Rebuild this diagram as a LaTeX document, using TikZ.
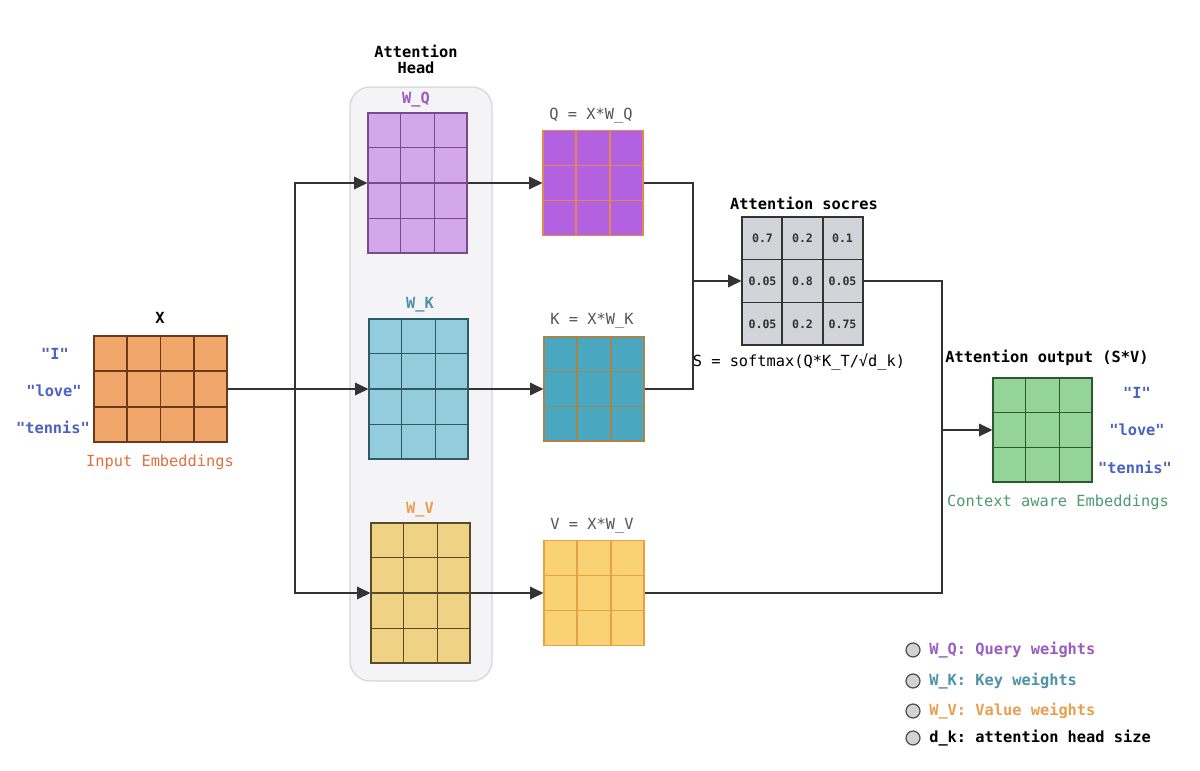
\documentclass[tikz,border=0pt]{standalone}
\usepackage{fontspec}
\setmainfont{DejaVu Sans Mono}[Ligatures=TeXOff]
\setmonofont{DejaVu Sans Mono}[Ligatures=TeXOff]
\usetikzlibrary{arrows.meta,calc}
\definecolor{cline}{HTML}{333333}
\definecolor{wordblue}{HTML}{4C62C0}
\definecolor{inemb}{HTML}{E0703C}
\definecolor{xfill}{HTML}{F2A76A}
\definecolor{xgrid}{HTML}{6A3A1A}
\definecolor{wqfill}{HTML}{D3A8EA}
\definecolor{wqgrid}{HTML}{7A4A8C}
\definecolor{wqtext}{HTML}{9B5CC0}
\definecolor{qfill}{HTML}{B261E0}
\definecolor{qgrid}{HTML}{E4864E}
\definecolor{wkfill}{HTML}{93CCDD}
\definecolor{wkgrid}{HTML}{2E5A68}
\definecolor{wktext}{HTML}{4C92A8}
\definecolor{kfill}{HTML}{4AA7C0}
\definecolor{kgrid}{HTML}{A8844A}
\definecolor{wvfill}{HTML}{F0D285}
\definecolor{wvgrid}{HTML}{5A4A2C}
\definecolor{wvtext}{HTML}{E8A050}
\definecolor{vfill}{HTML}{F8D274}
\definecolor{vgrid}{HTML}{E8A040}
\definecolor{sfill}{HTML}{D2D4DA}
\definecolor{sgrid}{HTML}{333333}
\definecolor{ofill}{HTML}{95D498}
\definecolor{ogrid}{HTML}{2C5A2C}
\definecolor{ctext}{HTML}{4C9C72}
\definecolor{headfill}{HTML}{F4F4F7}
\definecolor{headdraw}{HTML}{D6D6DA}
\definecolor{lblgray}{HTML}{555555}
\definecolor{legfill}{HTML}{D2D2D6}
\newcommand\qq{\symbol{34}}
\newcommand\matgrid[4]{%
  \foreach \ci in {1,...,\numexpr#2-1\relax}{%
    \draw[#4,line width=1pt] ($(#1.north west)!{\ci/#2}!(#1.north east)$) -- ($(#1.south west)!{\ci/#2}!(#1.south east)$);}%
  \foreach \cj in {1,...,\numexpr#3-1\relax}{%
    \draw[#4,line width=1pt] ($(#1.north west)!{\cj/#3}!(#1.south west)$) -- ($(#1.north east)!{\cj/#3}!(#1.south east)$);}%
}
\tikzset{
  mat/.style 2 args={draw, line width=0.9pt, inner sep=0pt, minimum width=#1*0.75pt, minimum height=#2*0.75pt},
  conn/.style={draw=cline, line width=0.9pt},
  arr/.style={conn, -{Triangle[length=10pt,width=9.5pt]}},
  txt/.style={font=\fontsize{11.5pt}{13pt}\selectfont, inner sep=0pt},
  btxt/.style={font=\fontsize{11.5pt}{13pt}\selectfont\bfseries, inner sep=0pt},
  val/.style={font=\fontsize{8.7pt}{10pt}\selectfont\bfseries, inner sep=0pt, text=cline},
  legdot/.style={circle, draw=black!70, fill=legfill, line width=0.9pt, minimum size=10.5pt, inner sep=0pt},
}
\begin{document}
\begin{tikzpicture}[x=0.75pt,y=-0.75pt]
\useasboundingbox (0,0) rectangle (1200,771);
\fill[white] (0,0) rectangle (1200,771);

% attention head container
\node[draw=headdraw, fill=headfill, line width=0.9pt, rounded corners=15pt, minimum width=142*0.75pt, minimum height=594*0.75pt] (head) at (421,384) {};
\node[btxt] (headlbl) at (416,62) {\begin{tabular}{c}Attention\\[-1pt]Head\end{tabular}};

% X
\node[mat={133}{106}, draw=xgrid, fill=xfill] (X) at (160.5,389) {};
\matgrid{X}{4}{3}{xgrid}
\node[btxt] (Xl) at (160,318) {X};
\node[btxt, text=wordblue] (w1) at (55,354) {\qq I\qq};
\node[btxt, text=wordblue] (w2) at (54,391) {\qq love\qq};
\node[btxt, text=wordblue] (w3) at (53,427) {\qq tennis\qq};
\node[txt, text=inemb] (inl) at (160,462) {Input Embeddings};

% W matrices
\node[mat={99}{140}, draw=wqgrid, fill=wqfill] (WQ) at (417.5,183) {};
\matgrid{WQ}{3}{4}{wqgrid}
\node[btxt, text=wqtext] (WQl) at (416,100) {W\_Q};
\node[mat={99}{140}, draw=wkgrid, fill=wkfill] (WK) at (418.5,389) {};
\matgrid{WK}{3}{4}{wkgrid}
\node[btxt, text=wktext] (WKl) at (420,305) {W\_K};
\node[mat={99}{140}, draw=wvgrid, fill=wvfill] (WV) at (420.5,593) {};
\matgrid{WV}{3}{4}{wvgrid}
\node[btxt, text=wvtext] (WVl) at (420,510) {W\_V};

% Q K V
\node[mat={100}{105}, draw=qgrid, fill=qfill] (Q) at (593,183) {};
\matgrid{Q}{3}{3}{qgrid}
\node[txt, text=lblgray] (Ql) at (591,116) {Q = X*W\_Q};
\node[mat={100}{104}, draw=kgrid, fill=kfill] (Kmat) at (594,389) {};
\matgrid{Kmat}{3}{3}{kgrid}
\node[txt, text=lblgray] (Kl) at (592,321) {K = X*W\_K};
\node[mat={100}{105}, draw=vgrid, fill=vfill] (V) at (594,593) {};
\matgrid{V}{3}{3}{vgrid}
\node[txt, text=lblgray] (Vl) at (592,526) {V = X*W\_V};

% S
\node[mat={121}{128}, draw=sgrid, fill=sfill] (S) at (802.5,281) {};
\matgrid{S}{3}{3}{sgrid}
\node[btxt] (Sl) at (804,203) {Attention socres};
\node[txt] (Sf) at (799,362) {S = softmax(Q*K\_T/√d\_k)};
\node[val] (s11) at (762.5,238) {0.7};
\node[val] (s12) at (802.5,238) {0.2};
\node[val] (s13) at (842.5,238) {0.1};
\node[val] (s21) at (762.5,281) {0.05};
\node[val] (s22) at (802.5,281) {0.8};
\node[val] (s23) at (842.5,281) {0.05};
\node[val] (s31) at (762.5,324) {0.05};
\node[val] (s32) at (802.5,324) {0.2};
\node[val] (s33) at (842.5,324) {0.75};

% Output
\node[mat={99}{104}, draw=ogrid, fill=ofill] (O) at (1042.5,430) {};
\matgrid{O}{3}{3}{ogrid}
\node[btxt] (Ol) at (1047,358) {Attention output (S*V)};
\node[btxt, text=wordblue] (o1) at (1137,393) {\qq I\qq};
\node[btxt, text=wordblue] (o2) at (1137,430) {\qq love\qq};
\node[btxt, text=wordblue] (o3) at (1135,467) {\qq tennis\qq};
\node[txt, text=ctext] (ctx) at (1058,502) {Context aware Embeddings};

% connectors
\coordinate (b) at (295,389);
\coordinate (m) at (693,281);
\coordinate (n) at (942,430);
\draw[conn] (X.east) -- (b);
\draw[arr] (b) |- (WQ.west);
\draw[arr] (b) -- (WK.west);
\draw[arr] (b) |- (WV.west);
\draw[arr] (WQ.east) -- (Q.west);
\draw[arr] (WK.east) -- (Kmat.west);
\draw[arr] (WV.east) -- (V.west);
\draw[conn] (Q.east) -| (m);
\draw[conn] (Kmat.east) -| (m);
\draw[arr] (m) -- (S.west);
\draw[conn] (S.east) -| (n);
\draw[conn] (V.east) -| (n);
\draw[arr] (n) -- (O.west);

% legend
\node[legdot] (d1) at (913,650) {};
\node[btxt, text=wqtext, anchor=west] (l1) at (929,650) {W\_Q: Query weights};
\node[legdot] (d2) at (913,681) {};
\node[btxt, text=wktext, anchor=west] (l2) at (929,681) {W\_K: Key weights};
\node[legdot] (d3) at (913,711) {};
\node[btxt, text=wvtext, anchor=west] (l3) at (929,711) {W\_V: Value weights};
\node[legdot] (d4) at (913,738) {};
\node[btxt, anchor=west] (l4) at (929,738) {d\_k: attention head size};
\end{tikzpicture}
\end{document}
